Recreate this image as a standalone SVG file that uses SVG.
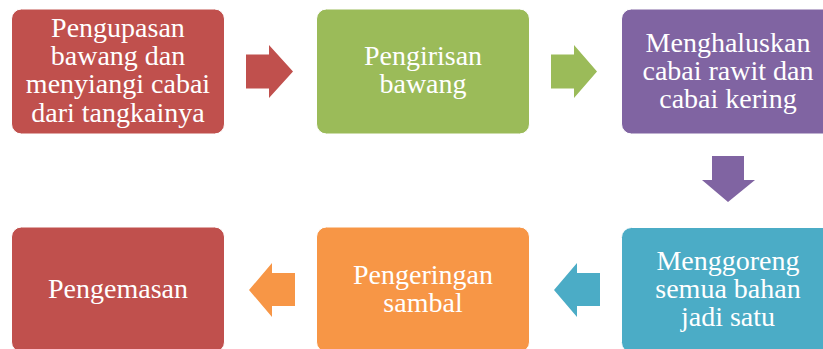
<svg xmlns="http://www.w3.org/2000/svg" width="823" height="349" viewBox="0 0 823 349">
<style>
.box{stroke:#ffffff;stroke-width:1}
.t{font-family:"Liberation Serif","Times New Roman",serif;font-size:28px;fill:#ffffff;text-anchor:middle}
</style>
<rect width="823" height="349" fill="#ffffff"/>
<g id="connectors">
<polygon fill="#C0504D" points="246,54.5 269,54.5 269,45 293,71.5 269,98 269,88.5 246,88.5"/>
<polygon fill="#9BBB59" points="551,54.5 574,54.5 574,45 597,71.5 574,98 574,88.5 551,88.5"/>
<polygon fill="#8064A2" points="712,156 744,156 744,180 755,180 728,202 702,180 712,180"/>
<polygon fill="#4BACC6" points="600,273 577,273 577,263 554,290 577,317 577,306 600,306"/>
<polygon fill="#F79646" points="295,273 272,273 272,263 249,290 272,317 272,306 295,306"/>
</g>
<g id="n1">
<rect class="box" x="11.5" y="9" width="213" height="125" rx="10" fill="#C0504D"/>
<text class="t" x="118" y="36.7">Pengupasan</text>
<text class="t" x="118" y="65">bawang dan</text>
<text class="t" x="118" y="93.3">menyiangi cabai</text>
<text class="t" x="118" y="121.7">dari tangkainya</text>
</g>
<g id="n2">
<rect class="box" x="316.5" y="9" width="213" height="125" rx="10" fill="#9BBB59"/>
<text class="t" x="423" y="65">Pengirisan</text>
<text class="t" x="423" y="93.3">bawang</text>
</g>
<g id="n3">
<rect class="box" x="621.5" y="9" width="213" height="125" rx="10" fill="#8064A2"/>
<text class="t" x="728" y="51.7">Menghaluskan</text>
<text class="t" x="728" y="80">cabai rawit dan</text>
<text class="t" x="728" y="108.3">cabai kering</text>
</g>
<g id="n4">
<rect class="box" x="621.5" y="227.5" width="213" height="125" rx="10" fill="#4BACC6"/>
<text class="t" x="728" y="269.7">Menggoreng</text>
<text class="t" x="728" y="298">semua bahan</text>
<text class="t" x="728" y="326.3">jadi satu</text>
</g>
<g id="n5">
<rect class="box" x="316.5" y="227" width="213" height="125" rx="10" fill="#F79646"/>
<text class="t" x="423" y="283.8">Pengeringan</text>
<text class="t" x="423" y="312.2">sambal</text>
</g>
<g id="n6">
<rect class="box" x="11.5" y="227" width="213" height="125" rx="10" fill="#C0504D"/>
<text class="t" x="118" y="297.5">Pengemasan</text>
</g>
</svg>
